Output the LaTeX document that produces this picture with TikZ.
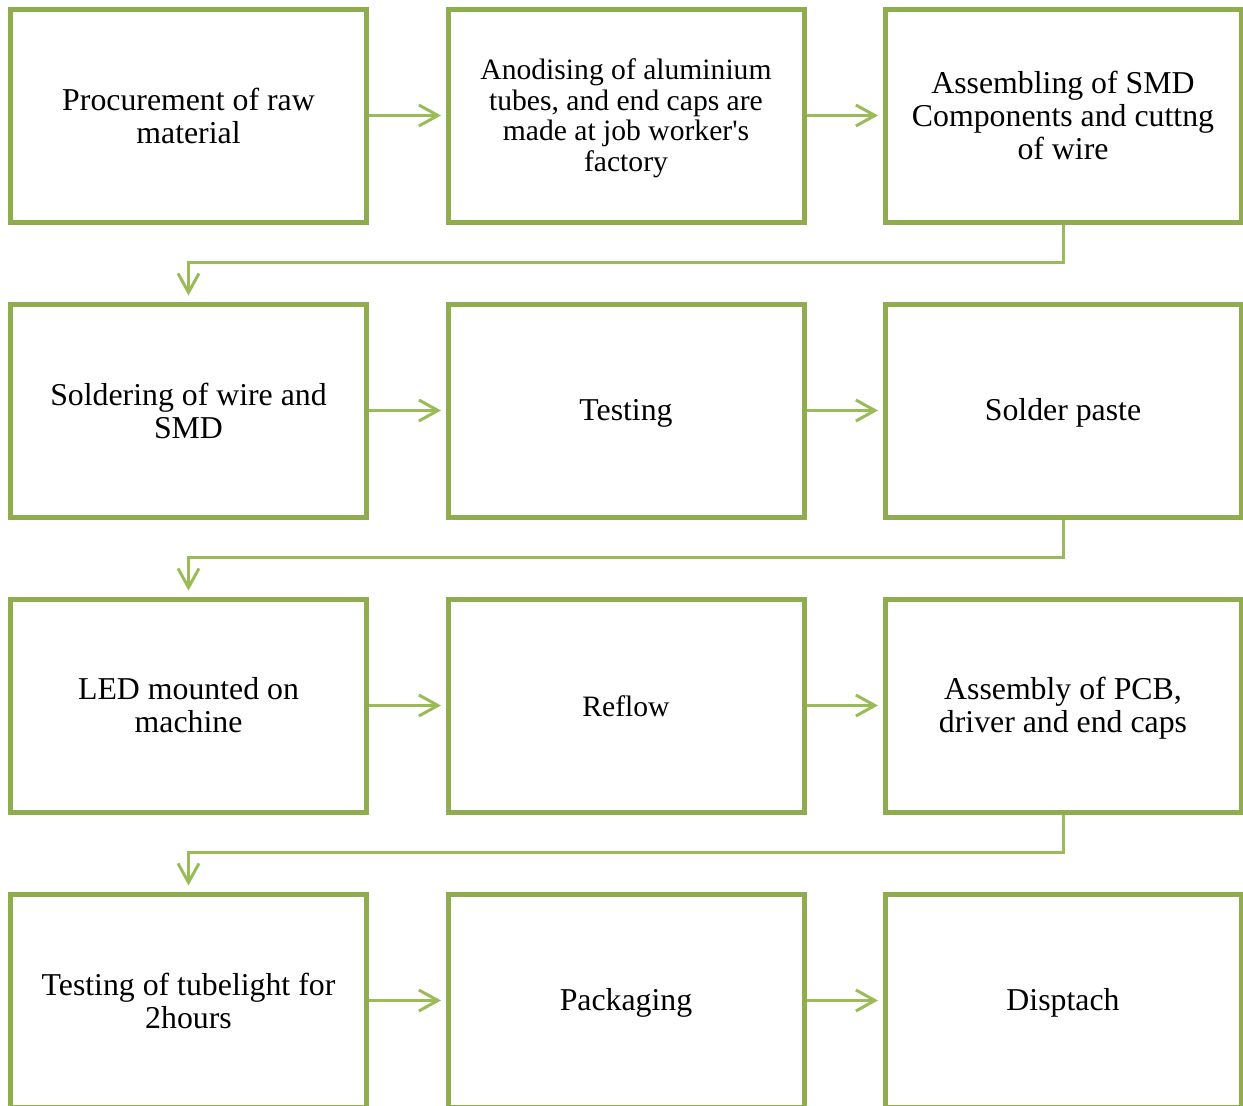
\documentclass[tikz,border=0pt]{standalone}
\usepackage{fontspec}
\setmainfont{Liberation Serif}
\usetikzlibrary{arrows.meta,calc}
\definecolor{boxgreen}{RGB}{143,172,79}
\definecolor{linegreen}{RGB}{155,187,89}
\tikzset{
  stepbox/.style={draw=boxgreen, line width=5pt, minimum width=356pt, minimum height=213pt,
    align=center, inner sep=0pt, font=\fontsize{31.8}{33}\selectfont, text=black},
  boxtext/.style={align=center, inner sep=0pt, text=black, font=\fontsize{31.8}{33}\selectfont},
  smalltext/.style={font=\fontsize{29.6}{30.5}\selectfont},
  oneline/.style={text height=22pt, text depth=2pt},
  conn/.style={draw=linegreen, line width=3pt, -{Straight Barb[length=19pt,width=21pt,line width=3pt]}},
  hconn/.style={conn, shorten >=4.5pt},
  vconn/.style={conn, shorten >=6pt}
}
\begin{document}
\begin{tikzpicture}[x=1pt,y=-1pt]
\useasboundingbox (0,0) rectangle (1243,1106);
% row 1
\node[stepbox] (a1) at (188.5,115.5) {Procurement of raw\\material};
\node[stepbox] (a2) at (626,115.5) {};
\node[boxtext,smalltext] (a2t) at ($(a2)+(0,3)$) {Anodising of aluminium\\tubes, and end caps are\\made at job worker\textquotesingle s\\factory};
\node[stepbox] (a3) at (1063,115.5) {Assembling of SMD\\Components and cuttng\\of wire};
% row 2
\node[stepbox] (b1) at (188.5,410.5) {Soldering of wire and\\SMD};
\node[stepbox,oneline] (b2) at (626,410.5) {Testing};
\node[stepbox,oneline] (b3) at (1063,410.5) {Solder paste};
% row 3
\node[stepbox] (c1) at (188.5,705.5) {LED mounted on\\machine};
\node[stepbox] (c2) at (626,705.5) {};
\node[boxtext,smalltext,oneline] (c2t) at ($(c2)+(0,1)$) {Reflow};
\node[stepbox] (c3) at (1063,705.5) {};
\node[boxtext] (c3t) at ($(c3)+(0,3)$) {Assembly of PCB,\\driver and end caps};
% row 4
\node[stepbox] (d1) at (188.5,1000.5) {Testing of tubelight for\\2hours};
\node[stepbox,oneline] (d2) at (626,1000.5) {Packaging};
\node[stepbox,oneline] (d3) at (1063,1000.5) {Disptach};
% horizontal connectors
\draw[hconn] (a1) -- (a2);
\draw[hconn] (a2) -- (a3);
\draw[hconn] (b1) -- (b2);
\draw[hconn] (b2) -- (b3);
\draw[hconn] (c1) -- (c2);
\draw[hconn] (c2) -- (c3);
\draw[hconn] (d1) -- (d2);
\draw[hconn] (d2) -- (d3);
% elbow connectors
\draw[vconn] (a3.south) -- ++(0,38) -| (b1.north);
\draw[vconn] (b3.south) -- ++(0,38) -| (c1.north);
\draw[vconn] (c3.south) -- ++(0,38) -| (d1.north);
\end{tikzpicture}
\end{document}
